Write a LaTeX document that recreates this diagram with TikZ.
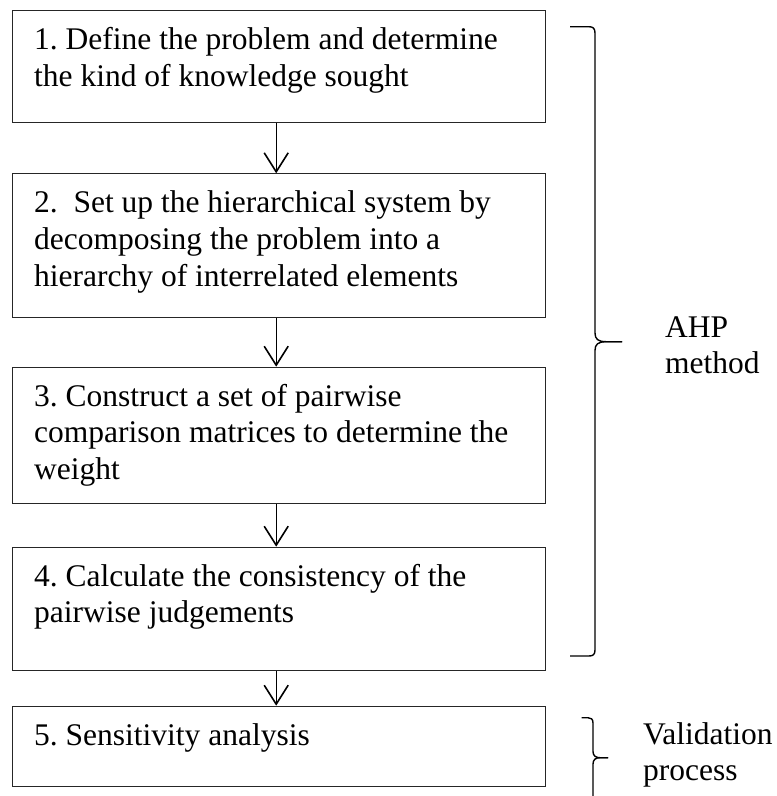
\documentclass[tikz,border=0pt]{standalone}
\usepackage{fontspec}
\setmainfont{Liberation Serif}
\usetikzlibrary{arrows.meta}
\frenchspacing
\newcommand{\boxtxt}[2]{\parbox[c][#1pt][t]{490pt}{\raggedright\rule{0pt}{39pt}#2}}
\tikzset{
  stepbox/.style={draw=black!85, line width=1pt, anchor=north west, inner xsep=21.7pt, inner ysep=0pt,
    font=\fontsize{31.5}{36.7}\selectfont},
  flowarrow/.style={line width=1.4pt, -{Straight Barb[length=19pt,width=24pt,line width=1.6pt]}},
  bracepath/.style={line width=1.4pt, line join=round},
  sidelabel/.style={anchor=base west, inner sep=0pt, font=\fontsize{31.5}{36}\selectfont}
}
\begin{document}
\begin{tikzpicture}[x=1pt,y=-1pt]
\useasboundingbox (0,0) rectangle (777,796);
\clip (0,0) rectangle (777,796);

\node[stepbox] (b1) at (12,10) {\boxtxt{111.7}{1. Define the problem and determine\\the kind of knowledge sought}};
\node[stepbox] (b2) at (12,173.3) {\boxtxt{143.4}{2.~~Set up the hierarchical system by\\decomposing the problem into a\\hierarchy of interrelated elements}};
\node[stepbox] (b3) at (12,366.7) {\boxtxt{136}{3. Construct a set of pairwise\\comparison matrices to determine the\\weight}};
\node[stepbox] (b4) at (12,546.7) {\boxtxt{123.3}{4. Calculate the consistency of the\\pairwise judgements}};
\node[stepbox] (b5) at (12,705.7) {\boxtxt{79.8}{5. Sensitivity analysis}};

\draw[flowarrow] ([xshift=-3pt]b1.south) -- ([xshift=-3pt]b2.north);
\draw[flowarrow] ([xshift=-3pt]b2.south) -- ([xshift=-3pt]b3.north);
\draw[flowarrow] ([xshift=-3pt]b3.south) -- ([xshift=-3pt]b4.north);
\draw[flowarrow] ([xshift=-3pt]b4.south) -- ([xshift=-3pt]b5.north);

% brace for AHP method
\draw[bracepath] (570,26.7) -- (589,26.7) .. controls (593,26.7) and (595,28.5) .. (595,33)
  -- (595,333) .. controls (595,339) and (598,341.7) .. (606,341.7) -- (622,341.7);
\draw[bracepath] (622,341.7) -- (606,341.7) .. controls (598,341.7) and (595,344.4) .. (595,350.4)
  -- (595,650) .. controls (595,654.5) and (593,656) .. (589,656) -- (570,656);

% brace for validation
\draw[bracepath] (581.7,717.7) -- (588,717.7) .. controls (591,717.7) and (593,719) .. (593,723)
  -- (593,751.5) .. controls (593,756) and (596,757.7) .. (600,757.7) -- (608,757.7);
\draw[bracepath] (608,757.7) -- (600,757.7) .. controls (596,757.7) and (593,759.4) .. (593,764)
  -- (593,800);

\node[sidelabel] (ahp) at (665,337) {\parbox[t]{120pt}{\raggedright AHP\\method}};
\node[sidelabel] (val) at (643,744) {\parbox[t]{140pt}{\raggedright Validation\\process}};
\end{tikzpicture}
\end{document}
